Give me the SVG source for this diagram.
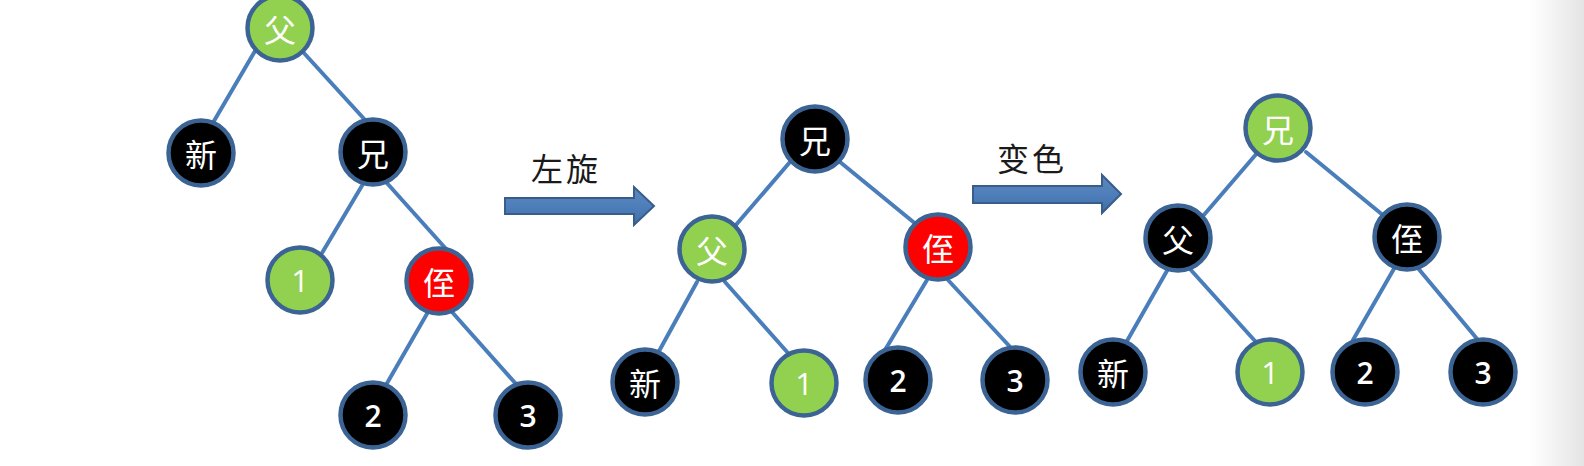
<svg xmlns="http://www.w3.org/2000/svg" width="1584" height="466" viewBox="0 0 1584 466">
<defs>
<linearGradient id="edge" x1="0" y1="0" x2="1" y2="0">
<stop offset="0" stop-color="#ffffff"/>
<stop offset="1" stop-color="#e4e4e4"/>
</linearGradient>
<linearGradient id="arr" x1="0" y1="0" x2="0" y2="1">
<stop offset="0" stop-color="#5b87bd"/>
<stop offset="0.5" stop-color="#4f7fba"/>
<stop offset="1" stop-color="#3f6ea8"/>
</linearGradient>
<style>
.n{stroke:#3b6494;stroke-width:4.5}
.b{fill:#000000}
.g{fill:#92d050}
.r{fill:#ff0000}
.t{fill:#ffffff;font-family:"Noto Sans CJK SC","Liberation Sans",sans-serif;font-size:32px;text-anchor:middle;dominant-baseline:central}
.d{fill:#ffffff;font-family:"Open Sans","Liberation Sans",sans-serif;font-size:30px;font-weight:600;text-anchor:middle;dominant-baseline:central}
.d1{font-weight:400;font-size:31px}
.e{stroke:#4a7ebb;stroke-width:4;fill:none;stroke-linecap:round}
.lbl{fill:#1a1a1a;font-family:"Noto Sans CJK SC",sans-serif;font-size:32px;letter-spacing:3px}
.a{fill:url(#arr);stroke:#385d8a;stroke-width:2}
</style>
</defs>
<rect x="0" y="0" width="1584" height="466" fill="#ffffff"/>
<rect x="1530" y="0" width="54" height="466" fill="url(#edge)"/>
<g id="connectors">
<line class="e" x1="255" y1="51" x2="214" y2="121"/>
<line class="e" x1="303" y1="52" x2="366" y2="121"/>
<line class="e" x1="363" y1="184" x2="322" y2="253"/>
<line class="e" x1="386" y1="182" x2="447" y2="250"/>
<line class="e" x1="428" y1="312" x2="386" y2="385"/>
<line class="e" x1="452" y1="312" x2="517" y2="385"/>
<line class="e" x1="790" y1="162" x2="735" y2="226"/>
<line class="e" x1="840" y1="162" x2="917" y2="225"/>
<line class="e" x1="697" y1="282" x2="658" y2="353"/>
<line class="e" x1="725" y1="282" x2="788" y2="353"/>
<line class="e" x1="927" y1="280" x2="885" y2="350"/>
<line class="e" x1="948" y1="280" x2="1013" y2="350"/>
<line class="e" x1="1258" y1="152" x2="1203" y2="216"/>
<line class="e" x1="1306" y1="152" x2="1384" y2="216"/>
<line class="e" x1="1168" y1="269" x2="1127" y2="341"/>
<line class="e" x1="1190" y1="269" x2="1255" y2="341"/>
<line class="e" x1="1395" y1="267" x2="1353" y2="340"/>
<line class="e" x1="1417" y1="267" x2="1478" y2="340"/>
</g>
<g id="arrow1">
<polygon class="a" points="505,198 634,198 634,187 654,206 634,225 634,214 505,214"/>
<text class="lbl" x="531" y="181">左旋</text>
</g>
<g id="arrow2">
<polygon class="a" points="973,186 1102,186 1102,175 1121,194 1102,213 1102,203 973,203"/>
<text class="lbl" x="997" y="171">变色</text>
</g>
<g id="t1-fu"><circle class="n g" cx="280" cy="28" r="32.5"/><text class="t" x="280" y="28">父</text></g>
<g id="t1-xin"><circle class="n b" cx="201" cy="153" r="32.5"/><text class="t" x="201" y="153">新</text></g>
<g id="t1-xiong"><circle class="n b" cx="373" cy="152" r="32.5"/><text class="t" x="373" y="152">兄</text></g>
<g id="t1-1"><circle class="n g" cx="300" cy="280" r="32.5"/><text class="d d1" x="300" y="280">1</text></g>
<g id="t1-zhi"><circle class="n r" cx="439" cy="281" r="32.5"/><text class="t" x="439" y="281">侄</text></g>
<g id="t1-2"><circle class="n b" cx="373" cy="415" r="32.5"/><text class="d" x="373" y="415">2</text></g>
<g id="t1-3"><circle class="n b" cx="528" cy="415" r="32.5"/><text class="d" x="528" y="415">3</text></g>
<g id="t2-xiong"><circle class="n b" cx="815" cy="139" r="32.5"/><text class="t" x="815" y="139">兄</text></g>
<g id="t2-fu"><circle class="n g" cx="712" cy="249" r="32.5"/><text class="t" x="712" y="249">父</text></g>
<g id="t2-zhi"><circle class="n r" cx="938" cy="247" r="32.5"/><text class="t" x="938" y="247">侄</text></g>
<g id="t2-xin"><circle class="n b" cx="645" cy="382" r="32.5"/><text class="t" x="645" y="382">新</text></g>
<g id="t2-1"><circle class="n g" cx="804" cy="383" r="32.5"/><text class="d d1" x="804" y="383">1</text></g>
<g id="t2-2"><circle class="n b" cx="898" cy="380" r="32.5"/><text class="d" x="898" y="380">2</text></g>
<g id="t2-3"><circle class="n b" cx="1015" cy="380" r="32.5"/><text class="d" x="1015" y="380">3</text></g>
<g id="t3-xiong"><circle class="n g" cx="1278" cy="128" r="32.5"/><text class="t" x="1278" y="128">兄</text></g>
<g id="t3-fu"><circle class="n b" cx="1178" cy="238" r="32.5"/><text class="t" x="1178" y="238">父</text></g>
<g id="t3-zhi"><circle class="n b" cx="1407" cy="237" r="32.5"/><text class="t" x="1407" y="237">侄</text></g>
<g id="t3-xin"><circle class="n b" cx="1113" cy="372" r="32.5"/><text class="t" x="1113" y="372">新</text></g>
<g id="t3-1"><circle class="n g" cx="1270" cy="372" r="32.5"/><text class="d d1" x="1270" y="372">1</text></g>
<g id="t3-2"><circle class="n b" cx="1365" cy="372" r="32.5"/><text class="d" x="1365" y="372">2</text></g>
<g id="t3-3"><circle class="n b" cx="1483" cy="372" r="32.5"/><text class="d" x="1483" y="372">3</text></g>
</svg>
